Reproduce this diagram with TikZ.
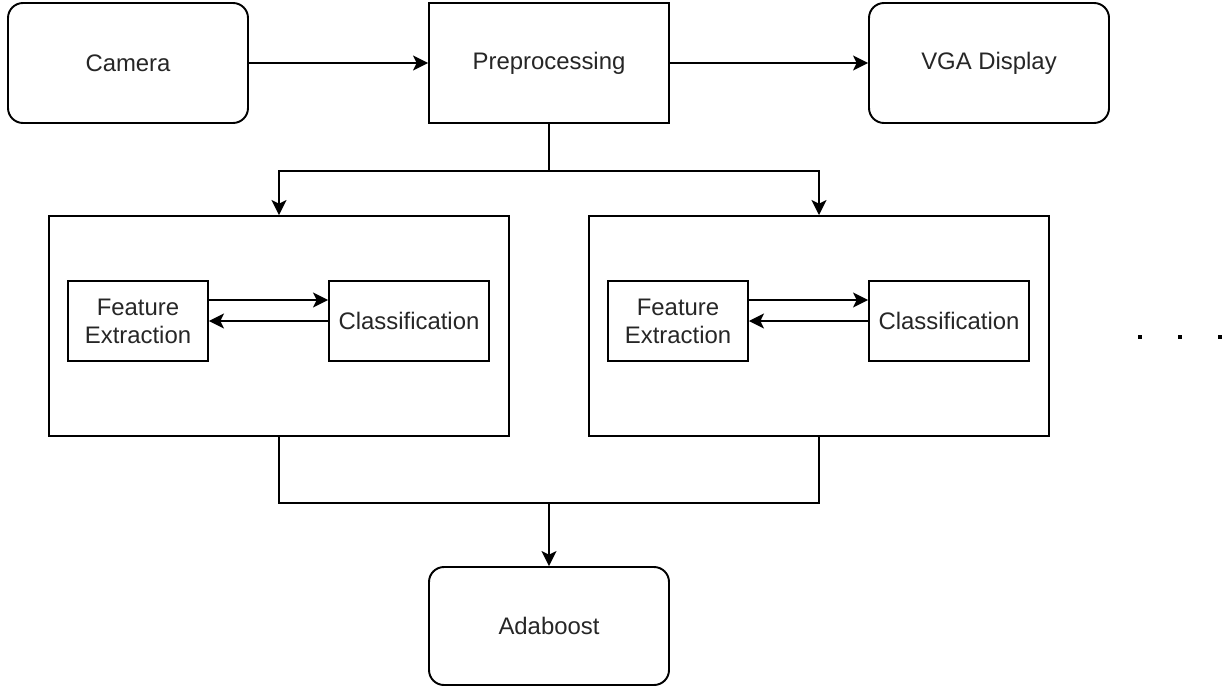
\documentclass[tikz,border=0pt]{standalone}
\usepackage{fontspec}
\setmainfont{Liberation Sans}
\usetikzlibrary{positioning, arrows.meta}

\begin{document}
\begin{tikzpicture}[line width=1.1pt, node distance=5cm, on grid,
    >={Stealth[length=8.5pt,width=8.5pt,inset=2pt]},
    every node/.style={font=\fontsize{13.6}{16}\selectfont, text=black!85},
    unit/.style={draw, rounded corners=0.3cm, minimum width=4.8cm, minimum height=2.4cm},
    block/.style={draw, minimum width=4.8cm, minimum height=2.4cm},
    stage/.style={draw, minimum width=9.2cm, minimum height=4.4cm},
    inner/.style={draw, minimum width=2.8cm, minimum height=1.6cm, align=center, inner sep=1pt}]
    \useasboundingbox (0,0) rectangle (24.52,-13.74);

    \node[unit] (cam) at (2.56,-1.26) {Camera};
    \node[block] (pre) [right=8.42cm of cam] {Preprocessing};
    \node[unit] (vga) [right=8.8cm of pre] {VGA Display};

    \node[stage] (stA) [below left=5.26cm and 5.4cm of pre] {};
    \node[stage] (stB) [below right=5.26cm and 5.4cm of pre] {};

    \node[inner] (feA) [above left=0.1cm and 2.82cm of stA] {Feature\\Extraction};
    \node[inner, minimum width=3.2cm] (clA) [right=5.42cm of feA] {Classification};
    \node[inner] (feB) [above left=0.1cm and 2.82cm of stB] {Feature\\Extraction};
    \node[inner, minimum width=3.2cm] (clB) [right=5.42cm of feB] {Classification};

    \node[unit, minimum height=2.36cm] (ada) [below=11.26cm of pre] {Adaboost};

    \coordinate (split) at ([yshift=-0.94cm]pre.south);
    \coordinate (merge) at ([yshift=-1.32cm]stA.south -| pre.south);

    \draw[->] (cam) -- (pre);
    \draw[->] (pre) -- (vga);
    \draw (pre.south) -- (split);
    \draw[->] (split) -| (stA.north);
    \draw[->] (split) -| (stB.north);

    \draw[->] ([yshift=0.42cm]feA.east) -- ([yshift=0.42cm]clA.west);
    \draw[->] (clA.west) -- (feA.east);
    \draw[->] ([yshift=0.42cm]feB.east) -- ([yshift=0.42cm]clB.west);
    \draw[->] (clB.west) -- (feB.east);

    \draw (stA.south) |- (merge);
    \draw (stB.south) |- (merge);
    \draw[->] (merge) -- (ada.north);

    % more stages follow
    \foreach \x in {22.8, 23.6, 24.4}
        \fill (\x-0.045,-6.695) rectangle (\x+0.045,-6.785);
\end{tikzpicture}
\end{document}
